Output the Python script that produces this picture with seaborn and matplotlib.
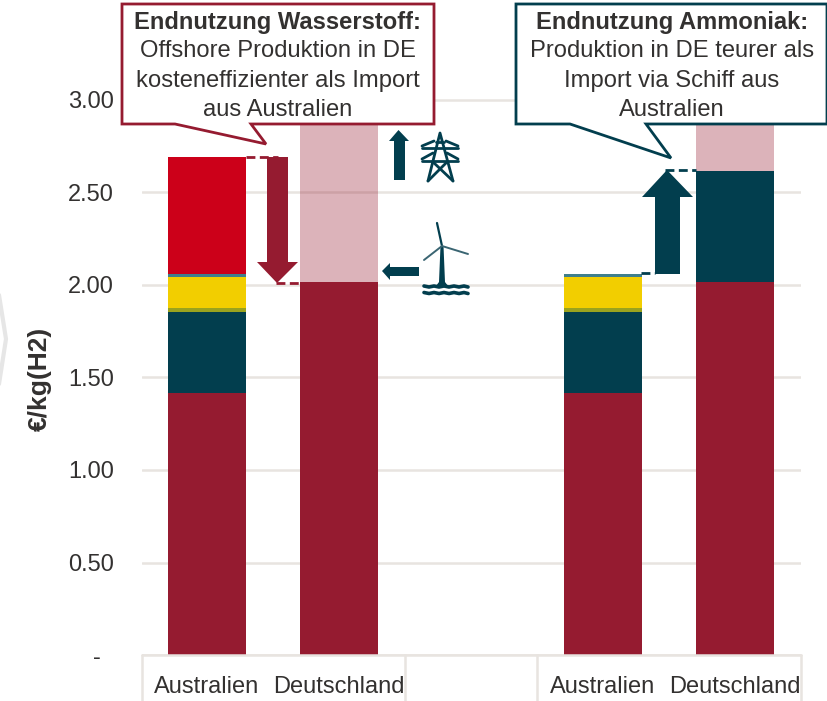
import numpy as np
import pandas as pd
import matplotlib
matplotlib.use('Agg')
import matplotlib.pyplot as plt
from matplotlib.patches import Polygon
import seaborn as sns

# categories: five slots, the middle one stays empty
slots = ['A1', 'D1', 'leer', 'A2', 'D2']
slot_labels = ['Australien', 'Deutschland', '', 'Australien', 'Deutschland']

# stacked segments, heights in EUR/kg(H2), per slot
strom = [1.415, 2.015, 0, 1.415, 2.015]
anlage = [0.44, 0, 0, 0.44, 0.60]
oliv = [0.02, 0, 0, 0.02, 0]
gelb = [0.17, 0, 0, 0.17, 0]
blau = [0.015, 0, 0, 0.015, 0]
rot = [0.63, 0, 0, 0, 0]
netz = [0, 1.10, 0, 0, 0.50]

segments = [
    ('strom', strom, '#951B30', 1),
    ('anlage', anlage, '#023E4E', 1),
    ('oliv', oliv, '#9AA31E', 1),
    ('gelb', gelb, '#F2CE00', 1),
    ('blau', blau, '#3F7F8C', 1),
    ('rot', rot, '#CC0019', 1),
    ('netz', netz, '#951B30', 0.33),
]

yticks = [0, 0.5, 1.0, 1.5, 2.0, 2.5, 3.0]
ytick_labels = ['-  ', '0.50', '1.00', '1.50', '2.00', '2.50', '3.00']

TEXT = '#333130'
GRID = '#E8E4E0'
CRIMSON = '#951B30'
TEAL = '#023E4E'
W, H = 828, 701

sns.set_theme(style='white')
plt.rcParams['font.family'] = ['Liberation Sans', 'DejaVu Sans']

fig = plt.figure(figsize=(W / 100, H / 100), dpi=100)
ax = fig.add_axes([142 / W, (H - 655) / H, (801 - 142) / W, 655 / H])

# stacked bars, one seaborn call per segment
bottom = np.zeros(len(slots))
for name, values, color, alpha in segments:
    df = pd.DataFrame({'slot': slots, 'wert': values})
    sns.barplot(data=df, x='slot', y='wert', order=slots, color=color, alpha=alpha,
                width=0.59, bottom=bottom, saturation=1, errorbar=None, ax=ax, zorder=3,
                linewidth=0)
    bottom = bottom + np.array(values)

ax.set_xlim(-0.49, 4.5)
ax.set_ylim(0, 655 / 185)
ax.set_yticks(yticks)
ax.set_yticklabels(ytick_labels, fontsize=17, color=TEXT)
ax.set_xticks(range(5))
ax.set_xticklabels(slot_labels, fontsize=17, color=TEXT)
ax.tick_params(axis='x', length=0, pad=15)
ax.tick_params(axis='y', length=0, pad=20)
ax.set_xlabel('')
ax.set_ylabel('')
ax.grid(axis='y', color=GRID, lw=1.8, zorder=0)
ax.set_axisbelow(True)
sns.despine(ax=ax, left=True, right=True, top=True, bottom=True)
fig.text(40 / W, 1 - 379 / H, '€/kg(H2)', rotation=90, fontsize=19, fontweight='bold',
         color=TEXT, ha='center', va='center')

# overlay in pixel coordinates for callouts, arrows and icons
ov = fig.add_axes([0, 0, 1, 1], facecolor='none')
ov.set_xlim(0, W)
ov.set_ylim(H, 0)
ov.axis('off')

# category axis frame
ov.plot([142, 801], [655, 655], color=GRID, lw=1.8)
for x in [142, 405, 537, 801]:
    ov.plot([x, x], [655, 701], color=GRID, lw=1.8)

# grey chevron cut off at the left edge
ov.plot([-1, 6, -1], [295, 339, 384], color='#E6E6E6', lw=3)


def poly(pts, color):
    ov.add_patch(Polygon(pts, closed=True, facecolor=color, edgecolor='none'))


def dashed(x0, x1, y, color):
    ov.plot([x0, x1], [y, y], color=color, lw=2, ls=(0, (3.2, 1.6)))


def callout(box, tail, color, cx, lines):
    l, t, r, b = box
    pts = [(l, t), (r, t), (r, b), (tail[2], b), (tail[1], tail[3]), (tail[0], b), (l, b)]
    ov.add_patch(Polygon(pts, closed=True, facecolor='white', edgecolor=color, lw=2, zorder=5))
    for i, (txt, weight) in enumerate(lines):
        ov.text(cx, 22 + i * 29.3, txt, fontsize=17.1, fontweight=weight, color=TEXT,
                ha='center', va='center', zorder=6)


callout((122, 4, 434, 124), (175, 266, 251, 144), CRIMSON, 278,
        [('Endnutzung Wasserstoff:', 'bold'), ('Offshore Produktion in DE', 'normal'),
         ('kosteneffizienter als Import', 'normal'), ('aus Australien', 'normal')])
callout((516, 4, 827, 124), (570, 671, 646, 158), TEAL, 672,
        [('Endnutzung Ammoniak:', 'bold'), ('Produktion in DE teurer als', 'normal'),
         ('Import via Schiff aus', 'normal'), ('Australien', 'normal')])

# arrows
poly([(267, 157), (288, 157), (288, 262), (298, 262), (277, 283), (257, 262), (267, 262)], CRIMSON)
dashed(246, 278, 157, CRIMSON)
dashed(276, 325, 283, CRIMSON)
poly([(655, 274), (680, 274), (680, 197), (693, 197), (667, 170), (642, 197), (655, 197)], TEAL)
dashed(665, 696, 170, TEAL)
dashed(641, 655, 273, TEAL)
poly([(394, 180), (405, 180), (405, 141), (409, 141), (398.5, 130), (389, 141), (394, 141)], TEAL)
poly([(419, 267), (390, 267), (390, 263), (382, 271), (390, 280), (390, 276), (419, 276)], TEAL)

# pylon icon
pyl = dict(color=TEAL, lw=2, solid_capstyle='round')
ov.plot([428, 440, 453], [181, 133, 181], **pyl)
ov.plot([436, 444], [142, 142], **pyl)
ov.plot([422, 458], [148, 148], **pyl)
ov.plot([422, 458], [161, 161], **pyl)
ov.plot([422, 434], [146, 141], **pyl)
ov.plot([458, 446], [146, 141], **pyl)
ov.plot([422, 433], [159, 153], **pyl)
ov.plot([458, 447], [159, 153], **pyl)
ov.plot([433, 453], [162, 181], **pyl)
ov.plot([447, 428], [162, 181], **pyl)

# wind turbine icon
poly([(440.5, 246), (443.5, 246), (445, 282), (448, 286), (436, 286), (439, 282)], TEAL)
ov.plot([442, 437], [246, 223], color=TEAL, lw=1.6)
ov.plot([442, 468], [246, 254], color='#3A6572', lw=1.4)
ov.plot([442, 424], [246, 260], color='#3A6572', lw=1.4)
for y in [286, 292.5]:
    ov.plot([424, 429, 434, 439, 444, 449, 454, 459, 464, 468],
            [y, y + 1, y, y + 1, y, y + 1, y, y + 1, y, y + 1], color=TEAL, lw=2.6)

fig.savefig('out.png', dpi=100)
